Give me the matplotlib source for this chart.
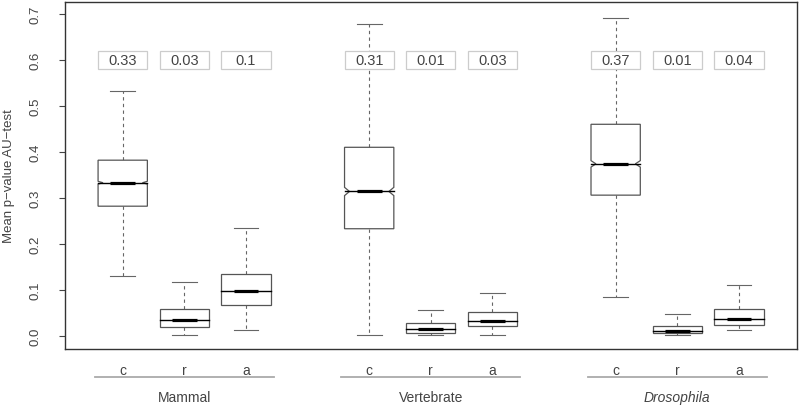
import matplotlib
matplotlib.use("Agg")
import matplotlib.pyplot as plt
import matplotlib.transforms as mtransforms

plt.rcParams['font.family'] = ['Liberation Sans', 'DejaVu Sans']

# data
groups = ["Mammal", "Vertebrate", "Drosophila"]
subs = ["c", "r", "a"]
whislo = [0.131, 0.001, 0.012, 0.001, 0.001, 0.001, 0.085, 0.001, 0.012]
q1 = [0.282, 0.020, 0.067, 0.233, 0.006, 0.022, 0.306, 0.0065, 0.023]
med = [0.333, 0.034, 0.097, 0.314, 0.0146, 0.033, 0.374, 0.0115, 0.037]
q3 = [0.382, 0.059, 0.134, 0.410, 0.028, 0.051, 0.460, 0.022, 0.059]
whishi = [0.532, 0.117, 0.235, 0.677, 0.057, 0.093, 0.690, 0.048, 0.110]
notch = [0.003, 0.0, 0.0, 0.009, 0.0, 0.0, 0.007, 0.0, 0.0]
means = ["0.33", "0.03", "0.1", "0.31", "0.01", "0.03", "0.37", "0.01", "0.04"]

positions = [1, 2, 3, 5, 6, 7, 9, 10, 11]
boxcol = "#555555"
txtcol = "#444444"

fig = plt.figure(figsize=(8, 4.14), dpi=100)
ax = fig.add_axes([0.081, 0.155, 0.915, 0.838])

stats = []
for i in range(len(positions)):
    stats.append(dict(med=med[i], q1=q1[i], q3=q3[i], whislo=whislo[i], whishi=whishi[i]))

ax.bxp(stats, positions=positions, widths=0.8, capwidths=0.4, showbox=False,
       showfliers=False, showcaps=True,
       medianprops=dict(visible=False),
       whiskerprops=dict(color="#666666", linewidth=0.8, linestyle=(0, (3, 3))),
       capprops=dict(color="#666666", linewidth=0.8))

w = 0.4
d = 0.08
for i, x in enumerate(positions):
    c = notch[i]
    if c > 0:
        xs = [x - w, x - w, x - w + d, x - w, x - w, x + w, x + w, x + w - d, x + w, x + w]
        ys = [q1[i], med[i] - c, med[i], med[i] + c, q3[i], q3[i], med[i] + c, med[i], med[i] - c, q1[i]]
    else:
        xs = [x - w, x - w, x + w, x + w]
        ys = [q1[i], q3[i], q3[i], q1[i]]
    ax.fill(xs, ys, facecolor="white", edgecolor=boxcol, linewidth=0.9, zorder=3)
    ax.plot([x - w, x + w], [med[i], med[i]], color="black", linewidth=1.0, zorder=4)
    ax.plot([x - w / 2, x + w / 2], [med[i], med[i]], color="black", linewidth=2.3,
            solid_capstyle="butt", zorder=4)
    ax.add_patch(plt.Rectangle((x - 0.4, 0.58), 0.8, 0.04, facecolor="white",
                               edgecolor="#cccccc", linewidth=0.9, zorder=5))
    ax.text(x, 0.6, means[i], ha="center", va="center", fontsize=10.5, color=txtcol, zorder=6)

ax.set_xlim(0.06, 11.94)
ax.set_ylim(-0.028, 0.726)

ax.set_yticks([0.0, 0.1, 0.2, 0.3, 0.4, 0.5, 0.6, 0.7])
ax.set_yticklabels(["0.0", "0.1", "0.2", "0.3", "0.4", "0.5", "0.6", "0.7"],
                   rotation=90, va="center", color=txtcol, fontsize=9.5)
ax.tick_params(axis="y", length=4, width=0.8, color="#444444", pad=13)
ax.set_xticks(positions)
ax.set_xticklabels(subs * 3, color=txtcol, fontsize=10)
ax.tick_params(axis="x", length=0, pad=10)
ax.set_ylabel("Mean p\u2212value AU\u2212test", color=txtcol, fontsize=9.5)
ax.yaxis.set_label_coords(-0.068, 0.5)

for s in ax.spines.values():
    s.set_color("#333333")
    s.set_linewidth(1.0)

trans = mtransforms.blended_transform_factory(ax.transData, ax.transAxes)
for g in range(3):
    left = positions[g * 3] - 0.45
    right = positions[g * 3 + 2] + 0.45
    ax.plot([left, right], [-0.082, -0.082], color="#aaaaaa", linewidth=1.3,
            transform=trans, clip_on=False)
    ax.text(positions[g * 3 + 1], -0.14, groups[g], ha="center", va="center",
            fontsize=10, color=txtcol, transform=trans,
            style="italic" if groups[g] == "Drosophila" else "normal")

fig.savefig("out.png", dpi=100)
